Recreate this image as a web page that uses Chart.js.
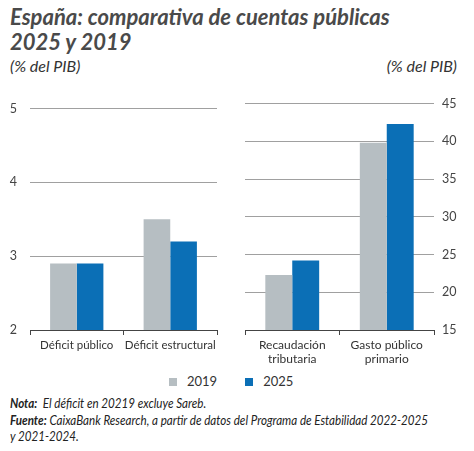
<!DOCTYPE html>
<html>
<head>
<meta charset="utf-8">
<script src="https://cdn.jsdelivr.net/npm/chart.js@4.4.1/dist/chart.umd.min.js"></script>
<style>
  body { margin: 0; width: 474px; height: 451px; background: #fff; position: relative; overflow: hidden; font-family: 'Lato', sans-serif; }
  .title { position: absolute; left: 10px; top: 4px; font-size: 22px; line-height: 25px; font-weight: 700; font-style: italic; color: #4a4a4a; }
  .unit { position: absolute; top: 56px; font-size: 16px; font-style: italic; color: #333; }
  #legend { position: absolute; top: 373px; left: 169px; font-size: 13px; color: #333; white-space: nowrap; }
  #legend span.item { display: inline-block; margin-right: 28px; }
  #legend i { display: inline-block; width: 8px; height: 8px; margin-right: 10px; vertical-align: 0px; }
  .notes { position: absolute; left: 10px; top: 395px; font-family: 'Lato', sans-serif; font-style: italic; font-size: 13px; line-height: 16.5px; color: #222; }
  .notes div { white-space: nowrap; transform-origin: left top; }
  canvas { position: absolute; }
</style>
</head>
<body>
<div class="title">España: comparativa de cuentas públicas<br>2025 y 2019</div>
<div class="unit" style="left:10px">(% del PIB)</div>
<div class="unit" style="right:17px">(% del PIB)</div>
<div style="position:absolute;left:0;top:88px;width:235px;height:280px"><canvas id="leftChart"></canvas></div>
<div style="position:absolute;left:235px;top:88px;width:239px;height:280px"><canvas id="rightChart"></canvas></div>
<div id="legend"></div>
<div class="notes">
  <div><b>Nota:</b>&nbsp; El déficit en 20219 excluye Sareb.</div>
  <div id="srcLine"><b>Fuente:</b> CaixaBank Research, a partir de datos del Programa de Estabilidad 2022-2025</div>
  <div>y 2021-2024.</div>
</div>
<script>
// data
const seriesNames = ['2019', '2025'];
const seriesColors = ['#b6bec2', '#0b6fb6'];

const leftCats = ['Déficit público', 'Déficit estructural'];
const left2019 = [2.9, 3.5];
const left2025 = [2.9, 3.2];
const leftTicks = [2, 3, 4, 5];

const rightCats = [['Recaudación', 'tributaria'], ['Gasto público', 'primario']];
const right2019 = [22.3, 39.8];
const right2025 = [24.2, 42.3];
const rightTicks = [15, 20, 25, 30, 35, 40, 45];

const makeChart = (id, cats, v2019, v2025, ticks, side, pad, axisW, catSize) => {
    const ctx = document.getElementById(id).getContext('2d');
    return new Chart(ctx, {
        type: 'bar',
        data: {
            labels: cats,
            datasets: [
                { label: seriesNames[0], data: v2019, backgroundColor: seriesColors[0], borderWidth: 0 },
                { label: seriesNames[1], data: v2025, backgroundColor: seriesColors[1], borderWidth: 0 }
            ]
        },
        options: {
            animation: false,
            responsive: true,
            maintainAspectRatio: false,
            layout: { padding: pad },
            datasets: { bar: { categoryPercentage: 0.57, barPercentage: 1.0 } },
            plugins: { legend: { display: false }, tooltip: { enabled: false } },
            scales: {
                x: {
                    grid: { display: true, drawOnChartArea: false, drawTicks: true, tickLength: 5, color: '#444' },
                    border: { display: true, color: '#444', width: 1 },
                    ticks: { color: '#333', font: { family: 'Lato', size: catSize }, padding: 3, maxRotation: 0, autoSkip: false },
                    afterFit: (scale) => { scale.height = 38; }
                },
                y: {
                    position: side,
                    min: ticks[0],
                    max: ticks[ticks.length - 1],
                    afterBuildTicks: (scale) => { scale.ticks = ticks.map(v => ({ value: v })); },
                    grid: { color: '#a0a0a0', lineWidth: 1, drawTicks: false },
                    border: { display: false },
                    ticks: { color: '#444', font: { family: 'Lato', size: 12.5 }, padding: side === 'left' ? 13 : 8 },
                    afterFit: (scale) => { scale.width = axisW; }
                }
            }
        }
    });
};

makeChart('leftChart', leftCats, left2019, left2025, leftTicks, 'left', { left: 0, right: 18, top: 12, bottom: 0 }, 30, 11.5);
makeChart('rightChart', rightCats, right2019, right2025, rightTicks, 'right', { left: 10, right: 0, top: 12, bottom: 0 }, 40, 12);

// legend
const legendEl = document.getElementById('legend');
seriesNames.forEach((name, i) => {
    const item = document.createElement('span');
    item.className = 'item';
    item.innerHTML = `<i style="background:${seriesColors[i]}"></i>${name}`;
    legendEl.appendChild(item);
});

// the source font is condensed: squeeze the note lines to the original width
const src = document.getElementById('srcLine');
const k = 418 / src.scrollWidth;
document.querySelectorAll('.notes div').forEach(d => { d.style.transform = `scaleX(${k})`; });
</script>
</body>
</html>
